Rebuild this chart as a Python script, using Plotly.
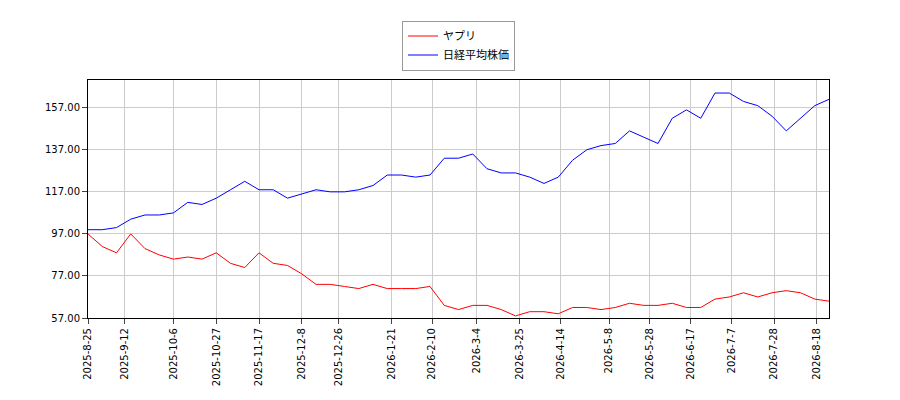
import plotly.graph_objects as go
import pandas as pd

dates = pd.date_range("2025-08-25", "2026-08-24", freq="7D")
nikkei = [99,99,100,104,106,106,107,112,111,114,118,122,118,118,114,116,118,117,117,118,120,125,125,124,125,133,133,135,128,126,126,124,121,124,132,137,139,140,146,143,140,152,156,152,164,164,160,158,153,146,152,158,161,154]
yapuri = [97,91,88,97,90,87,85,86,85,88,83,81,88,83,82,78,73,73,72,71,73,71,71,71,72,63,61,63,63,61,58,60,60,59,62,62,61,62,64,63,63,64,62,62,66,67,69,67,69,70,69,66,65,65]
n = min(len(dates), len(nikkei), len(yapuri))
dates, nikkei, yapuri = dates[:n], nikkei[:n], yapuri[:n]
ticklabels = ["2025-8-25","2025-9-12","2025-10-6","2025-10-27","2025-11-17","2025-12-8","2025-12-26",
              "2026-1-21","2026-2-10","2026-3-4","2026-3-25","2026-4-14","2026-5-8","2026-5-28",
              "2026-6-17","2026-7-7","2026-7-28","2026-8-18"]
tickvals = [pd.Timestamp(t) for t in ticklabels]

fig = go.Figure()
fig.add_trace(go.Scatter(x=dates, y=yapuri, mode="lines", name="ヤプリ", line=dict(color="red", width=1)))
fig.add_trace(go.Scatter(x=dates, y=nikkei, mode="lines", name="日経平均株価", line=dict(color="blue", width=1)))
ax = dict(showline=True, mirror=True, linecolor="black", gridcolor="#cccccc", ticks="outside",
          zeroline=False, automargin=False, tickfont=dict(size=10))
fig.update_xaxes(**ax, tickvals=tickvals, ticktext=ticklabels, tickangle=-90,
                 range=[pd.Timestamp("2025-08-25"), pd.Timestamp("2026-08-24")])
fig.update_yaxes(**ax, tickvals=[57,77,97,117,137,157], tickformat=".2f", range=[57,170.2])
fig.update_layout(width=900, height=400, plot_bgcolor="white", paper_bgcolor="white",
                  margin=dict(l=80, r=79, t=70, b=90),
                  font=dict(family="DejaVu Sans, Noto Sans CJK JP", size=11, color="black"),
                  legend=dict(x=0.5, y=1.25, xanchor="center", yanchor="top", bordercolor="#999", borderwidth=1, bgcolor="white"))
fig.write_html("out.html")
